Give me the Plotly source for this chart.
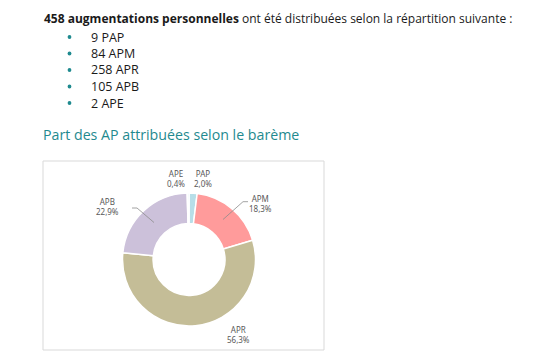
import plotly.graph_objects as go

# ---- data ----
categories = ["PAP", "APM", "APR", "APB", "APE"]
counts = [9, 84, 258, 105, 2]
slice_colors = ["#b7dee8", "#ff9b9b", "#c4bd97", "#ccc1da", "#dbeef4"]
heading = "Part des AP attribuées selon le barème"

# the page body has an 8px margin; the figure is sized to fill the rest
OFF = 8
W, H = 559 - OFF, 357 - OFF
total = sum(counts)


def px(x):
    return (x - OFF) / W


def py(y):
    return 1 - (y - OFF) / H


def pct(v):
    return f"{v / total * 100:.1f}".replace(".", ",") + "%"


fig = go.Figure()

cx, cy, R = 189, 259.5, 66.5
fig.add_trace(go.Pie(
    labels=categories,
    values=counts,
    sort=False,
    direction="clockwise",
    rotation=0,
    hole=0.54,
    marker=dict(colors=slice_colors, line=dict(color="white", width=1.5)),
    textinfo="none",
    hoverinfo="label+value+percent",
    showlegend=False,
    domain=dict(x=[px(cx - R), px(cx + R)], y=[py(cy + R), py(cy - R)]),
))

BODY = "Open Sans"
TEAL = "#1f8a8f"
TXT = "#1a1a1a"

ann = []
shapes = []
# intro line
ann.append(dict(
    x=px(43), y=py(18.5), xanchor="left", yanchor="middle",
    text=f"<b>{total} augmentations personnelles</b> ont été distribuées selon la répartition suivante :",
    font=dict(family=BODY, size=12, color=TXT), showarrow=False, borderpad=0))
# bullet list
bullet_y = [37, 53.5, 70, 86.5, 103]
for yy, c, v in zip(bullet_y, categories, counts):
    shapes.append(dict(type="circle", xref="paper", yref="paper",
                       x0=px(67.6), x1=px(71.4), y0=py(yy + 1.9), y1=py(yy - 1.9),
                       fillcolor=TEAL, line=dict(width=0)))
    ann.append(dict(x=px(90), y=py(yy), xanchor="left", yanchor="middle",
                    text=f"{v} {c}", font=dict(family=BODY, size=12.5, color=TXT),
                    showarrow=False, borderpad=0))
# heading
ann.append(dict(x=px(42), y=py(135), xanchor="left", yanchor="middle",
                text=heading, font=dict(family=BODY, size=14.2, color=TEAL),
                showarrow=False, borderpad=0))

# donut labels
label_pos = {"APE": (175.5, 178.5), "PAP": (203, 178.5), "APM": (260, 203),
             "APB": (107, 206), "APR": (238, 334.5)}
for c, v in zip(categories, counts):
    x0, y0 = label_pos[c]
    ann.append(dict(x=px(x0), y=py(y0), xanchor="center", yanchor="middle",
                    text=f"{c}<br>{pct(v)}", align="center",
                    font=dict(family="Noto Sans", size=8, color="#595959"),
                    showarrow=False, borderpad=0))

shapes += [
    # chart frame
    dict(type="rect", xref="paper", yref="paper", x0=px(43), x1=px(324), y0=py(350), y1=py(161),
         line=dict(color="#d9d9d9", width=1), fillcolor="rgba(0,0,0,0)", layer="below"),
    # leader lines
    dict(type="path", xref="paper", yref="paper",
         path=f"M {px(248)},{py(201.7)} L {px(243)},{py(201.7)} L {px(223)},{py(219.5)}",
         line=dict(color="#8c8c8c", width=0.8)),
    dict(type="path", xref="paper", yref="paper",
         path=f"M {px(132)},{py(208)} L {px(137)},{py(208)} L {px(154)},{py(222.5)}",
         line=dict(color="#8c8c8c", width=0.8)),
]

fig.update_layout(
    width=W, height=H,
    margin=dict(l=0, r=0, t=0, b=0),
    paper_bgcolor="white", plot_bgcolor="white",
    annotations=ann, shapes=shapes,
)

fig.write_html("out.html")
